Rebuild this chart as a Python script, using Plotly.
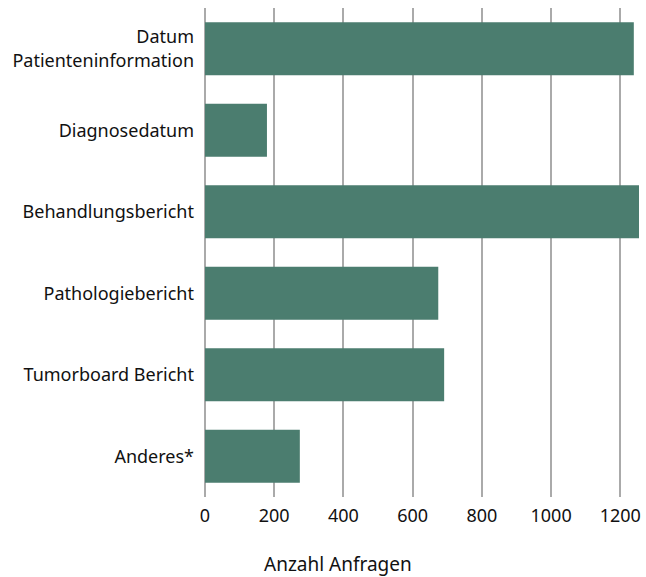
import plotly.graph_objects as go

# Kategorien von oben nach unten
categories = [
    "Datum<br>Patienteninformation",
    "Diagnosedatum",
    "Behandlungsbericht",
    "Pathologiebericht",
    "Tumorboard Bericht",
    "Anderes*",
]
requests = [1239, 179, 1254, 674, 691, 274]
x_ticks = [0, 200, 400, 600, 800, 1000, 1200]

fig = go.Figure(
    go.Bar(
        x=requests,
        y=categories,
        orientation="h",
        marker=dict(color="#4b7d6f", line=dict(width=0)),
        hoverinfo="x+y",
    )
)

fig.update_layout(
    width=646,
    height=577,
    margin=dict(l=205, r=5, t=8, b=80),
    plot_bgcolor="white",
    paper_bgcolor="white",
    bargap=0.35,
    showlegend=False,
    font=dict(family="Noto Sans, Open Sans, sans-serif", size=18, color="#111111"),
)

fig.update_xaxes(
    range=[0, 1254],
    tickvals=x_ticks,
    showgrid=True,
    gridcolor="#aaaaaa",
    gridwidth=1.5,
    zeroline=True,
    zerolinecolor="#aaaaaa",
    zerolinewidth=1.5,
    showline=False,
    ticks="",
    ticklabelstandoff=6,
    tickfont=dict(size=18),
)

fig.update_yaxes(
    categoryorder="array",
    categoryarray=categories[::-1],
    showgrid=False,
    zeroline=False,
    showline=False,
    ticks="",
    ticklabelstandoff=10,
    tickfont=dict(size=18),
)

# Achsentitel unter der x-Achse
fig.add_annotation(
    text="Anzahl Anfragen",
    xref="paper",
    yref="paper",
    x=0.306,
    y=-0.137,
    xanchor="center",
    yanchor="middle",
    showarrow=False,
    font=dict(size=19, color="#111111"),
)

fig.write_html("out.html")
